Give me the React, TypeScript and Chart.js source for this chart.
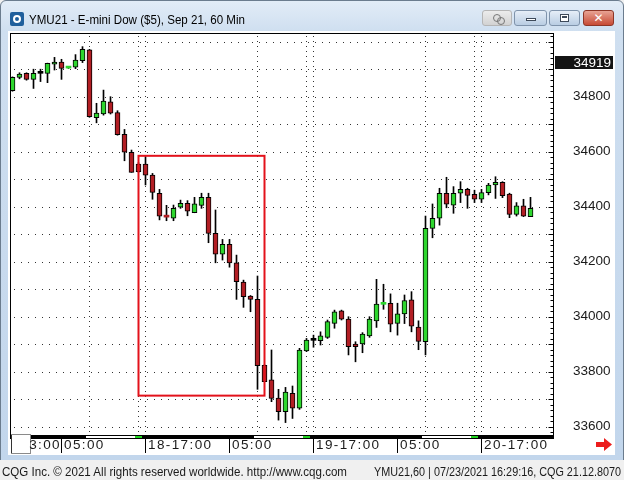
import React, { useEffect, useRef } from 'react';
import { Chart, registerables } from 'chart.js';

Chart.register(...registerables);

// ---- data (hourly bars) ----
const opens = [
  34822, 34870, 34885, 34863, 34885, 34885, 34918, 34926, 34904, 34907,
  34931, 34970, 34724, 34737, 34781, 34742, 34663, 34598, 34555, 34555,
  34515, 34449, 34366, 34358, 34398, 34412, 34378, 34405, 34434, 34303,
  34227, 34263, 34196, 34126, 34075, 34063, 33823, 33770, 33704, 33655,
  33721, 33667, 33876, 33914, 33913, 33925, 33976, 34021, 33991, 33900,
  33901, 33930, 33985, 34045, 34049, 33976, 34010, 34061, 33962, 33909,
  34321, 34358, 34449, 34406, 34449, 34463, 34445, 34427, 34451, 34479,
  34489, 34446, 34372, 34403, 34364,
];
const highs = [
  34872, 34887, 34887, 34900, 34900, 34922, 34943, 34936, 34907, 34953,
  34982, 34972, 34776, 34824, 34800, 34749, 34681, 34606, 34560, 34582,
  34521, 34463, 34405, 34406, 34424, 34422, 34434, 34449, 34449, 34388,
  34281, 34281, 34224, 34133, 34077, 34148, 33825, 33879, 33736, 33743,
  33748, 33885, 33921, 33933, 33945, 33988, 34024, 34024, 34000, 33909,
  33942, 34000, 34136, 34118, 34083, 34049, 34079, 34091, 33985, 34366,
  34410, 34467, 34507, 34473, 34491, 34467, 34460, 34463, 34485, 34509,
  34491, 34449, 34415, 34427, 34434,
];
const lows = [
  34820, 34865, 34860, 34830, 34855, 34851, 34897, 34863, 34903, 34902,
  34924, 34725, 34705, 34733, 34737, 34660, 34567, 34525, 34525, 34479,
  34427, 34352, 34349, 34349, 34394, 34367, 34378, 34394, 34269, 34196,
  34206, 34180, 34063, 34034, 34018, 33736, 33764, 33691, 33624, 33615,
  33630, 33663, 33873, 33889, 33897, 33921, 33958, 33988, 33861, 33836,
  33869, 33925, 33961, 34027, 33945, 33933, 33975, 33945, 33880, 33861,
  34287, 34333, 34396, 34376, 34415, 34394, 34415, 34415, 34443, 34430,
  34433, 34360, 34366, 34364, 34364,
];
const closes = [
  34870, 34882, 34863, 34885, 34885, 34921, 34926, 34903, 34906, 34933,
  34972, 34727, 34740, 34784, 34740, 34662, 34598, 34525, 34527, 34515,
  34452, 34366, 34362, 34394, 34412, 34384, 34410, 34434, 34303, 34227,
  34263, 34196, 34127, 34073, 34063, 33822, 33764, 33703, 33655, 33726,
  33667, 33879, 33915, 33914, 33930, 33982, 34018, 33991, 33891, 33891,
  33937, 33991, 34046, 34049, 33973, 34010, 34059, 33966, 33910, 34321,
  34358, 34449, 34409, 34449, 34463, 34441, 34427, 34451, 34479, 34489,
  34440, 34372, 34403, 34366, 34394,
];

const gridPrices = [33600, 33700, 33800, 33900, 34000, 34100, 34200, 34300, 34400, 34500, 34600, 34700, 34800, 34900, 35000];
const labelPrices = [33600, 33800, 34000, 34200, 34400, 34600, 34800];
const lastPrice = 34919;

const timeLabelIdx = [7, 19, 31, 43, 55, 67];
const timeLabelText = ['05:00', '18-17:00', '05:00', '19-17:00', '05:00', '20-17:00'];
const leadingLabel = '3:00';
const sessionLineIdx = [11, 18, 19, 35, 42, 43, 59, 66, 67];
const dayStartIdx = [11, 35, 59];
const dayEndIdx = [17, 41, 65];
const closeBarIdx = [18, 42, 66];

const boxFromIdx = 18;
const boxToIdx = 36;
const boxHigh = 34585;
const boxLow = 33713;

// view window
const X_MIN = -2.5 / 7;
const X_MAX = 540.5 / 7;
const Y_MAX = 35031.6;
const Y_MIN = 33566.2;

const GREEN = 'rgb(46,214,46)';
const RED = 'rgb(178,30,36)';

const titleText = 'YMU21 - E-mini Dow ($5), Sep 21, 60 Min';
const footerLeft = 'CQG Inc. © 2021 All rights reserved worldwide. http://www.cqg.com';
const footerRight = 'YMU21,60 | 07/23/2021 16:29:16, CQG 21.12.8070';

export default function App() {
  const ref = useRef<HTMLCanvasElement>(null);

  useEffect(() => {
    const canvas = ref.current!;
    const idx = opens.map((_, i) => i);
    const bodyData = idx.map((i) => ({ x: i, y: [opens[i], closes[i]] }));
    const wickData = idx.map((i) => ({ x: i, y: [lows[i], highs[i]] }));
    const colorOf = (i: number) => {
      if (i === undefined || i === null) return RED;
      if (closes[i] > opens[i]) return GREEN;
      if (closes[i] < opens[i]) return RED;
      return '#000';
    };
    const isDoji = (i: number) => i !== undefined && Math.abs(closes[i] - opens[i]) < 8;

    const decor = {
      id: 'decor',
      beforeDatasetsDraw(chart: any) {
        const { ctx, chartArea: a, scales } = chart;
        const x = scales.x;
        const y = scales.y;
        ctx.save();
        ctx.strokeStyle = '#333';
        ctx.lineWidth = 1;
        ctx.setLineDash([1, 6]);
        gridPrices.forEach((v) => {
          const py = Math.round(y.getPixelForValue(v)) + 0.5;
          if (py < a.top + 2 || py > a.bottom - 2) return;
          ctx.beginPath();
          ctx.moveTo(a.left + 4, py);
          ctx.lineTo(a.right - 2, py);
          ctx.stroke();
        });
        ctx.setLineDash([1, 4]);
        sessionLineIdx.forEach((i) => {
          const px = Math.round(x.getPixelForValue(i) - 0.5) + 0.5;
          ctx.beginPath();
          ctx.moveTo(px, a.top + 3);
          ctx.lineTo(px, a.bottom - 2);
          ctx.stroke();
        });
        ctx.restore();
      },
      afterDatasetsDraw(chart: any) {
        const { ctx, chartArea: a, scales } = chart;
        const x = scales.x;
        const y = scales.y;
        ctx.save();
        // highlight rectangle
        ctx.strokeStyle = '#e3121b';
        ctx.lineWidth = 2;
        const rx1 = x.getPixelForValue(boxFromIdx);
        const rx2 = x.getPixelForValue(boxToIdx);
        const ry1 = y.getPixelForValue(boxHigh);
        const ry2 = y.getPixelForValue(boxLow);
        ctx.strokeRect(rx1, ry1, rx2 - rx1, ry2 - ry1);

        // plot border
        ctx.strokeStyle = '#000';
        ctx.lineWidth = 1;
        ctx.strokeRect(a.left + 0.5, a.top + 0.5, a.right - a.left, a.bottom - a.top);

        // price ticks on the right edge
        for (let v = 33580; v <= 35020; v += 20) {
          const py = Math.round(y.getPixelForValue(v)) + 0.5;
          if (py < a.top + 1 || py > a.bottom - 1) continue;
          const len = v % 100 === 0 ? 5 : 3;
          ctx.beginPath();
          ctx.moveTo(a.right + 0.5 - len, py);
          ctx.lineTo(a.right + 0.5, py);
          ctx.stroke();
        }

        // time bar
        ctx.fillStyle = '#000';
        ctx.fillRect(a.left, a.bottom - 1, a.right - a.left + 1, 4);
        ctx.fillStyle = '#fff';
        dayStartIdx.forEach((s, k) => {
          const p1 = x.getPixelForValue(s - 0.5);
          const p2 = x.getPixelForValue(dayEndIdx[k] + 0.5);
          ctx.fillRect(p1, a.bottom, p2 - p1, 2);
        });
        ctx.fillStyle = '#22d422';
        closeBarIdx.forEach((s) => {
          const p1 = x.getPixelForValue(s - 0.5);
          const p2 = x.getPixelForValue(s + 0.5);
          ctx.fillRect(p1, a.bottom, p2 - p1, 2);
        });

        // small box at the left of the time axis
        ctx.fillStyle = '#fff';
        ctx.fillRect(a.left + 1, a.bottom - 2, 19, 19);
        ctx.strokeStyle = '#8a8a8a';
        ctx.strokeRect(a.left + 1.5, a.bottom - 1.5, 19, 19);
        ctx.strokeStyle = '#333';
        ctx.beginPath();
        ctx.moveTo(a.left + 1.5, a.bottom - 1);
        ctx.lineTo(a.left + 1.5, a.bottom + 17);
        ctx.stroke();

        // separators and labels
        ctx.strokeStyle = '#000';
        ctx.fillStyle = '#1a1a1a';
        ctx.font = '13.5px "Liberation Sans", Arial, sans-serif';
        (ctx as any).letterSpacing = '1.4px';
        ctx.textBaseline = 'middle';
        const ty = a.bottom + 9.5;
        timeLabelIdx.forEach((i, k) => {
          const px = Math.round(x.getPixelForValue(i) - 0.5) + 0.5;
          ctx.beginPath();
          ctx.moveTo(px, a.bottom + 3);
          ctx.lineTo(px, a.bottom + 17);
          ctx.stroke();
          ctx.textAlign = 'left';
          ctx.fillText(timeLabelText[k], px + 2.5, ty);
          if (k === 0) {
            ctx.textAlign = 'right';
            ctx.fillText(leadingLabel, px - 0.5, ty);
          }
        });
        (ctx as any).letterSpacing = '0px';

        // last price box
        const lp = y.getPixelForValue(lastPrice);
        const top = Math.round(lp - 8);
        ctx.fillStyle = '#141414';
        ctx.fillRect(a.right + 2, top, 58, 13);
        ctx.fillStyle = '#fff';
        ctx.textAlign = 'right';
        ctx.font = '13.5px "Liberation Sans", Arial, sans-serif';
        ctx.fillText(String(lastPrice), a.right + 58, top + 7);

        // red arrow
        const ax = a.right + 43;
        const ay = a.bottom + 2;
        ctx.fillStyle = '#ec1c1c';
        ctx.beginPath();
        ctx.moveTo(ax, ay + 4);
        ctx.lineTo(ax + 8, ay + 4);
        ctx.lineTo(ax + 8, ay);
        ctx.lineTo(ax + 16, ay + 6.5);
        ctx.lineTo(ax + 8, ay + 13);
        ctx.lineTo(ax + 8, ay + 9);
        ctx.lineTo(ax, ay + 9);
        ctx.closePath();
        ctx.fill();
        ctx.restore();
      },
    };

    const chart = new Chart(canvas, {
      type: 'bar',
      data: {
        datasets: [
          {
            data: bodyData as any,
            backgroundColor: (c: any) => colorOf(c.dataIndex),
            borderColor: '#000',
            borderWidth: (c: any) => (isDoji(c.dataIndex) ? 0 : 1),
            borderSkipped: false,
            barThickness: 5,
            minBarLength: 2,
            grouped: false,
          } as any,
          {
            data: wickData as any,
            backgroundColor: '#000',
            borderWidth: 0,
            barThickness: 1,
            grouped: false,
          } as any,
        ],
      },
      options: {
        responsive: false,
        animation: false,
        devicePixelRatio: 1,
        layout: { padding: { left: 2, top: 2, right: 0, bottom: 19 } },
        plugins: { legend: { display: false }, tooltip: { enabled: false } },
        scales: {
          x: { type: 'linear', display: false, min: X_MIN, max: X_MAX, offset: false },
          y: {
            position: 'right',
            min: Y_MIN,
            max: Y_MAX,
            afterFit: (s: any) => {
              s.width = 62;
              s.paddingTop = 0;
              s.paddingBottom = 0;
            },
            afterBuildTicks: (s: any) => {
              s.ticks = gridPrices.map((v) => ({ value: v }));
            },
            grid: { display: false, drawTicks: false },
            border: { display: false },
            ticks: {
              autoSkip: false,
              padding: 20,
              color: '#1a1a1a',
              font: { family: '"Liberation Sans", Arial, sans-serif', size: 13.5 },
              callback: (v: any) => (labelPrices.includes(Number(v)) ? String(v) : ''),
            },
          },
        },
      } as any,
      plugins: [decor],
    });
    return () => chart.destroy();
  }, []);

  const btn = {
    position: 'absolute' as const,
    top: 10,
    height: 16,
    borderRadius: 3,
    boxSizing: 'border-box' as const,
  };

  return (
    <div
      style={{
        position: 'fixed',
        left: 0,
        top: 0,
        width: 624,
        height: 480,
        overflow: 'hidden',
        background: '#f0f0f0',
        fontFamily: '"Liberation Sans", sans-serif',
      }}
    >
      <div
        style={{
          position: 'absolute',
          left: 0,
          top: 0,
          width: 622,
          height: 459,
          border: '1px solid #6b7c8e',
          borderRadius: '6px 6px 0 0',
          background: 'linear-gradient(180deg, #e2ecf7 0px, #cfdff0 30px, #c2d6ec 100%)',
        }}
      />
      <div style={{ position: 'absolute', left: 10, top: 12, width: 14, height: 14, background: '#1f5f9c', borderRadius: 2 }}>
        <div
          style={{
            position: 'absolute',
            left: 3,
            top: 3,
            width: 4,
            height: 4,
            border: '2px solid #fff',
            borderRadius: '50%',
          }}
        />
      </div>
      <div style={{ ...btn, left: 482, width: 30, background: 'linear-gradient(#ececec,#d2d2d2)', border: '1px solid #b5b5b5' }}>
        <div style={{ position: 'absolute', left: 10, top: 3, width: 6, height: 6, border: '1px solid #777', borderRadius: '50%' }} />
        <div style={{ position: 'absolute', left: 14, top: 6, width: 6, height: 6, border: '1px solid #777', borderRadius: '50%' }} />
      </div>
      <div style={{ ...btn, left: 514, width: 33, background: 'linear-gradient(#e6eef8,#b9cde3)', border: '1px solid #7f93ab' }}>
        <div style={{ position: 'absolute', left: 11, top: 7, width: 10, height: 3, border: '1px solid #3e4a5a', background: '#fff', boxSizing: 'border-box' }} />
      </div>
      <div style={{ ...btn, left: 549, width: 31, background: 'linear-gradient(#e6eef8,#b9cde3)', border: '1px solid #7f93ab' }}>
        <div style={{ position: 'absolute', left: 10, top: 3, width: 9, height: 8, border: '1px solid #3e4a5a', background: '#fff', boxSizing: 'border-box' }}>
          <div style={{ position: 'absolute', left: 1, top: 1, width: 5, height: 2, background: '#3e4a5a' }} />
        </div>
      </div>
      <div
        style={{
          ...btn,
          left: 583,
          width: 31,
          background: 'linear-gradient(#e8a394,#c74a34)',
          border: '1px solid #8d3526',
          color: '#fff',
          fontWeight: 700,
          fontSize: 12,
          lineHeight: '14px',
          textAlign: 'center',
          fontFamily: '"DejaVu Sans", sans-serif',
        }}
      >
        ✕
      </div>
      <div style={{ position: 'absolute', left: 8, top: 31, width: 607, height: 424, background: '#fff' }}>
        <canvas ref={ref} width={607} height={424} style={{ display: 'block', width: 607, height: 424 }} />
      </div>
      <div style={{ position: 'absolute', left: 0, top: 460, width: 624, height: 20, background: '#f0f0f0' }} />
      <svg width={624} height={480} style={{ position: 'absolute', left: 0, top: 0, pointerEvents: 'none' }}>
        <text x={29} y={24} fontSize={12} fill="#000" fontFamily='"Liberation Sans", sans-serif' textLength={216} lengthAdjust="spacingAndGlyphs">
          {titleText}
        </text>
        <text x={2} y={475.5} fontSize={12.2} fill="#1a1a1a" fontFamily='"Liberation Sans", sans-serif' textLength={345} lengthAdjust="spacingAndGlyphs">
          {footerLeft}
        </text>
        <text x={374} y={475.5} fontSize={12.2} fill="#1a1a1a" fontFamily='"Liberation Sans", sans-serif' textLength={247} lengthAdjust="spacingAndGlyphs">
          {footerRight}
        </text>
      </svg>
    </div>
  );
}
